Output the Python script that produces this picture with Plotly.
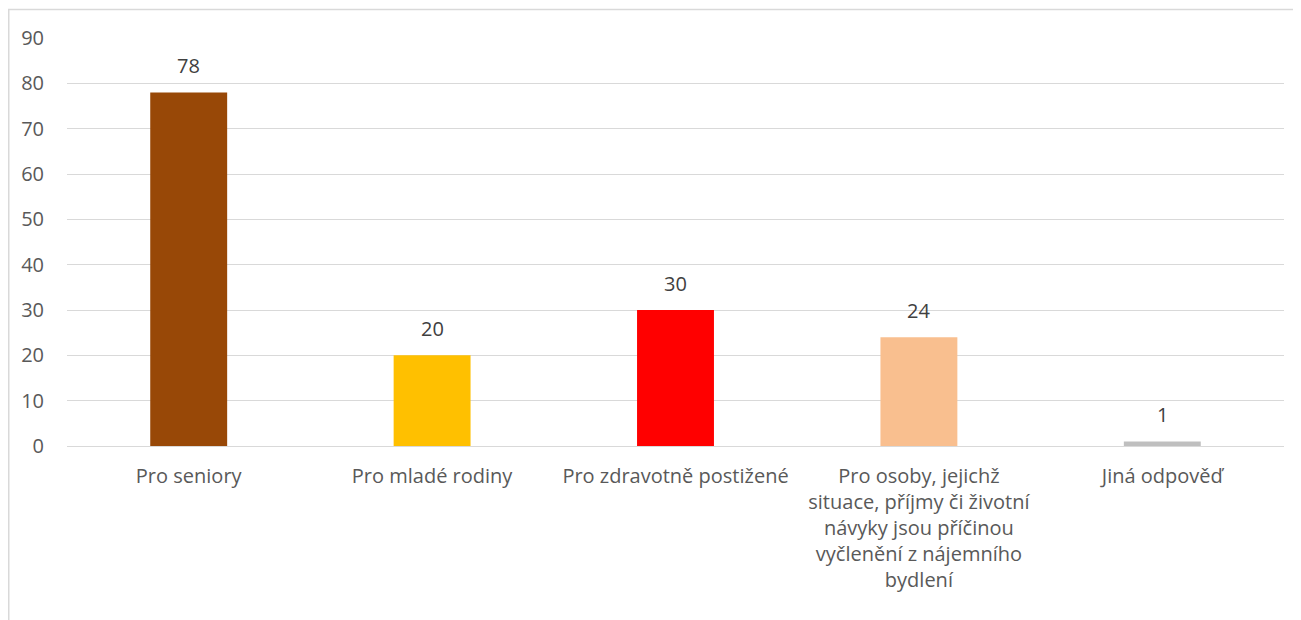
import plotly.graph_objects as go

categories = [
    "Pro seniory",
    "Pro mladé rodiny",
    "Pro zdravotně postižené",
    "Pro osoby, jejichž<br>situace, příjmy či životní<br>návyky jsou příčinou<br>vyčlenění z nájemního<br>bydlení",
    "Jiná odpověď",
]
values = [78, 20, 30, 24, 1]
colors = ["#984807", "#FFC000", "#FF0000", "#F9BF8F", "#BFBFBF"]
y_ticks = list(range(0, 100, 10))

# page body has an 8px margin, so plot box is placed in figure coords
W, H = 1301, 620
L, R, T, B = 59, 25, 30, 182
pw, ph = W - L - R, H - T - B

fig = go.Figure()
fig.add_trace(go.Bar(x=categories, y=values, marker=dict(color=colors, line=dict(width=0)),
                     width=0.316, hoverinfo="skip"))

# data labels
for c, v in zip(categories, values):
    fig.add_annotation(x=c, y=v, text=str(v), showarrow=False, yanchor="bottom",
                       yshift=11, font=dict(size=20, color="#404040", family="Open Sans"))

# chart border (top and left edges visible)
fig.add_shape(type="rect", xref="paper", yref="paper",
              x0=(0.75 - L) / pw, x1=1.2, y0=-1, y1=(H - B - 1.5) / ph,
              line=dict(color="#D9D9D9", width=1.5), layer="below")

fig.update_layout(
    width=W, height=H, margin=dict(l=L, r=R, t=T, b=B),
    plot_bgcolor="white", paper_bgcolor="white", showlegend=False,
    font=dict(family="Open Sans", size=20, color="#595959"),
)
fig.update_yaxes(range=[0, 90], tickvals=y_ticks, showgrid=True, gridcolor="#D9D9D9",
                 gridwidth=1, zeroline=False, showline=False,
                 ticks="outside", ticklen=18, tickcolor="white")
fig.update_xaxes(showgrid=False, showline=True, linecolor="#D9D9D9", linewidth=1,
                 ticks="outside", ticklen=12, tickcolor="white", tickangle=0)

fig.write_html("out.html")
